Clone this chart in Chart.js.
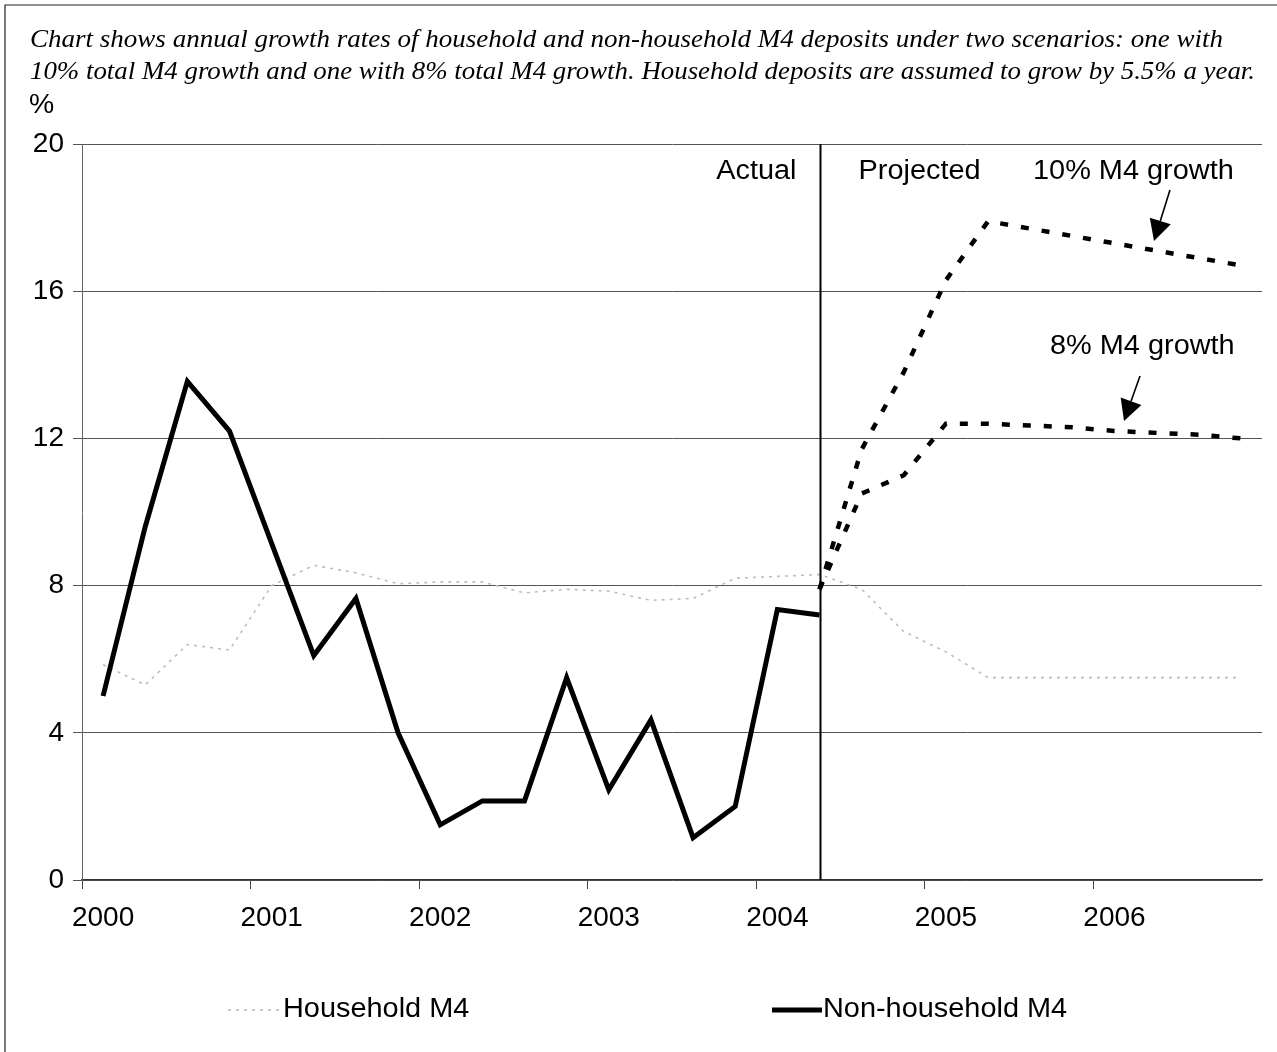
<!DOCTYPE html>
<html>
<head>
<meta charset="utf-8">
<script src="https://cdn.jsdelivr.net/npm/chart.js@4"></script>
<style>
  html, body { margin: 0; padding: 0; background: #fff; }
  #wrap { width: 1277px; height: 1052px; position: relative; }
</style>
</head>
<body>
<div id="wrap"><canvas id="myChart" width="1277" height="1052"></canvas></div>
<script>
// quarterly categories, 2000 Q1 .. 2006 Q4
const years = ['2000', '2001', '2002', '2003', '2004', '2005', '2006'];
const quarters = [];
years.forEach(y => { for (let q = 1; q <= 4; q++) quarters.push(y + ' Q' + q); });

// annual growth, per cent
const household = [5.85, 5.3, 6.4, 6.25, 8.0, 8.55, 8.35, 8.05, 8.1, 8.1, 7.8, 7.9, 7.85, 7.6,
  7.65, 8.2, 8.25, 8.3, 7.9, 6.75, 6.2, 5.5, 5.5, 5.5, 5.5, 5.5, 5.5, 5.5];
const nonHousehold = [5.0, 9.6, 13.55, 12.2, 9.15, 6.1, 7.65, 4.0, 1.5, 2.15, 2.15, 5.5, 2.45, 4.35,
  1.15, 2.0, 7.35, 7.2];
const gap = new Array(17).fill(null);
const growth10 = gap.concat([7.9, 11.7, 13.8, 16.3, 17.9, 17.7, 17.5, 17.3, 17.1, 16.9, 16.7]);
const growth8 = gap.concat([7.9, 10.5, 11.0, 12.4, 12.4, 12.35, 12.3, 12.2, 12.15, 12.1, 12.0]);
const lastActual = '2004 Q2';

const titleLines = [
  'Chart shows annual growth rates of household and non-household M4 deposits under two scenarios: one with',
  '10% total M4 growth and one with 8% total M4 growth. Household deposits are assumed to grow by 5.5% a year.'
];

const SANS = '"Liberation Sans", Arial, Helvetica, sans-serif';
const SERIF = '"Liberation Serif", "Times New Roman", Times, "Nimbus Roman", serif';

function txt(c, s, x, y, font, align, sx) {
  c.save();
  c.font = font;
  c.fillStyle = '#000';
  c.textBaseline = 'middle';
  c.textAlign = 'left';
  const w = c.measureText(s).width * (sx || 1);
  let x0 = x;
  if (align === 'right') x0 = x - w;
  if (align === 'center') x0 = x - w / 2;
  c.translate(x0, y);
  c.scale(sx || 1, 1);
  c.fillText(s, 0, 0);
  c.restore();
}

function fitText(c, s, x, y, font, width) {
  c.save();
  c.font = font;
  const sx = width / c.measureText(s).width;
  c.restore();
  txt(c, s, x, y, font, 'left', sx);
}

function arrow(c, x1, y1, x2, y2) {
  const a = Math.atan2(y2 - y1, x2 - x1);
  const len = 21, half = 11;
  const bx = x2 - len * Math.cos(a), by = y2 - len * Math.sin(a);
  c.save();
  c.strokeStyle = '#000';
  c.lineWidth = 1.6;
  c.beginPath();
  c.moveTo(x1, y1);
  c.lineTo(bx, by);
  c.stroke();
  c.fillStyle = '#000';
  c.beginPath();
  c.moveTo(x2, y2);
  c.lineTo(bx + half * Math.sin(a), by - half * Math.cos(a));
  c.lineTo(bx - half * Math.sin(a), by + half * Math.cos(a));
  c.closePath();
  c.fill();
  c.restore();
}

const extras = {
  id: 'extras',
  beforeDraw(chart) {
    const c = chart.ctx;
    c.save();
    c.fillStyle = '#fff';
    c.fillRect(0, 0, chart.width, chart.height);
    // frame
    c.strokeStyle = '#222';
    c.lineWidth = 1.2;
    c.beginPath();
    c.moveTo(5, chart.height);
    c.lineTo(5, 5);
    c.lineTo(chart.width, 5);
    c.stroke();
    c.restore();
  },
  afterDatasetsDraw(chart) {
    const c = chart.ctx;
    const x = chart.scales.x.getPixelForValue(quarters.indexOf(lastActual));
    const area = chart.chartArea;
    c.save();
    c.strokeStyle = '#000';
    c.lineWidth = 2;
    c.beginPath();
    c.moveTo(x + 1, area.top);
    c.lineTo(x + 1, area.bottom);
    c.stroke();
    c.restore();
  },
  afterDraw(chart) {
    const c = chart.ctx;
    const x = chart.scales.x.getPixelForValue(quarters.indexOf(lastActual)) + 1;
    const f = '27px ' + SANS;
    fitText(c, titleLines[0], 30, 40, 'italic 26px ' + SERIF, 1193);
    fitText(c, titleLines[1], 30, 72, 'italic 26px ' + SERIF, 1225);
    txt(c, '%', 29, 106, f, 'left', 1.05);

    txt(c, 'Actual', x - 24, 172, f, 'right', 1.07);
    txt(c, 'Projected', x + 38, 172, f, 'left', 1.07);
    txt(c, '10% M4 growth', 1033, 172, f, 'left', 1.07);
    txt(c, '8% M4 growth', 1050, 347, f, 'left', 1.07);
    arrow(c, 1170, 190, 1154, 241);
    arrow(c, 1140, 376, 1124, 421);

    // legend
    const ds = chart.data.datasets;
    const items = [[ds[0], 228, 280, 283], [ds[1], 772, 822, 823]];
    items.forEach(([d, a, b, tx]) => {
      c.save();
      c.strokeStyle = d.borderColor;
      c.lineWidth = d.borderWidth;
      c.setLineDash(d.borderDash || []);
      c.beginPath();
      c.moveTo(a, 1010);
      c.lineTo(b, 1010);
      c.stroke();
      c.restore();
      txt(c, d.label, tx, 1010, f, 'left', 1.07);
    });
  }
};

const ctx = document.getElementById('myChart');

new Chart(ctx, {
  type: 'line',
  data: {
    labels: quarters,
    datasets: [
      {
        label: 'Household M4',
        data: household,
        borderColor: '#bdbdbd',
        borderWidth: 1.6,
        borderDash: [3, 5],
        pointRadius: 0,
        tension: 0,
        order: 4
      },
      {
        label: 'Non-household M4',
        data: nonHousehold,
        borderColor: '#000',
        borderWidth: 5,
        pointRadius: 0,
        tension: 0,
        borderJoinStyle: 'miter',
        order: 1
      },
      {
        label: '10% M4 growth',
        data: growth10,
        borderColor: '#000',
        borderWidth: 4.5,
        borderDash: [8, 13],
        pointRadius: 0,
        tension: 0,
        order: 2
      },
      {
        label: '8% M4 growth',
        data: growth8,
        borderColor: '#000',
        borderWidth: 4.5,
        borderDash: [8, 13],
        pointRadius: 0,
        tension: 0,
        order: 3
      }
    ]
  },
  options: {
    responsive: false,
    animation: false,
    layout: { padding: { top: 144, right: 15, left: 0, bottom: 122 } },
    plugins: {
      legend: { display: false },
      tooltip: { enabled: false }
    },
    scales: {
      x: {
        type: 'category',
        offset: true,
        afterFit: s => { s.height = 50; },
        border: { color: '#333', width: 1.2 },
        grid: {
          offset: true,
          drawOnChartArea: false,
          tickLength: 9,
          color: c => (c.index % 4 === 0 ? '#444' : 'rgba(0,0,0,0)')
        },
        ticks: {
          autoSkip: false,
          maxRotation: 0,
          padding: 12,
          color: '#000',
          font: { family: SANS, size: 28 },
          callback: function (v, i) { return i % 4 === 0 ? this.getLabelForValue(v).slice(0, 4) : ''; }
        }
      },
      y: {
        min: 0,
        max: 20,
        afterFit: s => { s.width = 82; },
        border: { color: '#666', width: 1 },
        grid: { color: '#555', lineWidth: 1, tickLength: 9 },
        ticks: {
          stepSize: 4,
          padding: 9,
          color: '#000',
          font: { family: SANS, size: 28 }
        }
      }
    }
  },
  plugins: [extras]
});
</script>
</body>
</html>
